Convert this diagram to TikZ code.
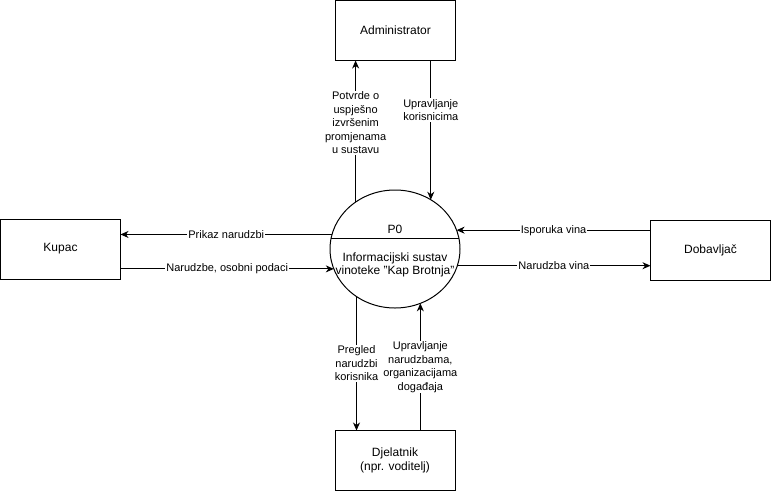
\documentclass[tikz,border=0pt]{standalone}
\usepackage{fontspec}
\setmainfont{Liberation Sans}
\usepackage{tikz}
\usetikzlibrary{arrows.meta,shapes.geometric}
\tikzset{
    every picture/.style={line join=miter},
    entity/.style={draw=black,fill=white,line width=1pt,
      minimum width=120pt,minimum height=60pt,inner sep=2pt,outer sep=0pt,
      font=\fontsize{12}{14.5}\selectfont,align=center},
    process/.style={draw=black,ellipse,line width=1pt,
      minimum width=130pt,minimum height=118pt,inner sep=0pt,outer sep=0pt},
    proctext/.style={font=\fontsize{12}{13.5}\selectfont,align=center,inner sep=0pt},
    flowarrow/.style={-{Stealth[length=8pt,width=7pt,inset=2.5pt]},draw=black,
      line width=1pt},
    flowlabel/.style={fill=white,inner xsep=1pt,inner ysep=1pt,
      font=\fontsize{11}{13.5}\selectfont,align=center}
}
\begin{document}
\begin{tikzpicture}[x=1pt,y=-1pt]
  \useasboundingbox (0,0) rectangle (771,491);
  % vanjski entiteti
  \node[entity] (adm) at (395.5,30.5) {Administrator};
  \node[entity] (kupac) at (60.5,249) {Kupac};
  \node[entity] (dob) at (710.5,250) {Dobavljač};
  \node[entity] (djel) at (395,460.5) {Djelatnik\\(npr. voditelj)};
  % proces P0
  \node[process] (p0) at (395,249) {};
  \draw[line width=1pt] (p0.9.8 -| p0.170.2) -- (p0.9.8);
  \node[proctext] (p0id) at (395,229) {P0};
  \node[proctext] (p0name) at (395,265) {Informacijski sustav\\vinoteke "Kap Brotnja"};
  % tokovi podataka
  \draw[flowarrow] (p0.130.7) -- node[flowlabel,pos=0.56]
    {Potvrde o\\uspješno\\izvršenim\\promjenama\\u sustavu} (p0.130.7 |- adm.south);
  \draw[flowarrow] (p0.54.85 |- adm.south) -- node[flowlabel,pos=0.355]
    {Upravljanje\\korisnicima} (p0.54.85);
  \draw[flowarrow] (p0.167.5) -- node[flowlabel] {Prikaz narudzbi} (p0.167.5 -| kupac.east);
  \draw[flowarrow] (p0.198.1 -| kupac.east) -- node[flowlabel] {Narudzbe, osobni podaci} (p0.198.1);
  \draw[flowarrow] (p0.17.2 -| dob.west) -- node[flowlabel] {Isporuka vina} (p0.17.2);
  \draw[flowarrow] (p0.345.7) -- node[flowlabel] {Narudzba vina} (p0.345.7 -| dob.west);
  \draw[flowarrow] (p0.231.6) -- node[flowlabel]
    {Pregled\\narudzbi\\korisnika} (p0.231.6 |- djel.north);
  \draw[flowarrow] (p0.295.7 |- djel.north) -- node[flowlabel]
    {Upravljanje\\narudzbama,\\organizacijama\\događaja} (p0.295.7);
\end{tikzpicture}
\end{document}
